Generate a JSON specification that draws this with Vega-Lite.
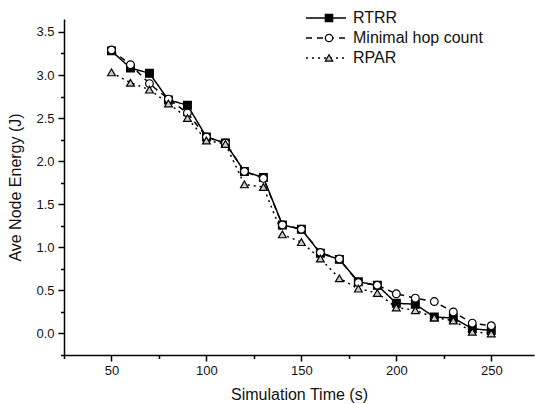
{
  "$schema": "https://vega.github.io/schema/vega-lite/v6.json",
  "width": 470,
  "height": 336,
  "autosize": {"type": "none"},
  "padding": {"left": 64, "top": 19, "right": 1, "bottom": 49},
  "background": "white",
  "config": {
    "view": {"stroke": null},
    "font": "Liberation Sans",
    "axis": {
      "domainColor": "black",
      "domainWidth": 1.5,
      "tickColor": "black",
      "tickWidth": 1.5,
      "labelFont": "Liberation Sans",
      "labelFontSize": 13,
      "labelColor": "#111",
      "titleFont": "Liberation Sans",
      "titleFontSize": 16,
      "titleFontWeight": "normal",
      "titleColor": "#111",
      "grid": false
    },
    "legend": {
      "labelFont": "Liberation Sans",
      "labelFontSize": 16,
      "labelColor": "#111",
      "padding": 0,
      "rowPadding": 0,
      "clipHeight": 20
    }
  },
  "data": {
    "values": [
      {"t": 50, "series": "RTRR", "e": 3.28},
      {"t": 60, "series": "RTRR", "e": 3.08},
      {"t": 70, "series": "RTRR", "e": 3.02},
      {"t": 80, "series": "RTRR", "e": 2.71},
      {"t": 90, "series": "RTRR", "e": 2.65},
      {"t": 100, "series": "RTRR", "e": 2.28},
      {"t": 110, "series": "RTRR", "e": 2.21},
      {"t": 120, "series": "RTRR", "e": 1.88},
      {"t": 130, "series": "RTRR", "e": 1.81},
      {"t": 140, "series": "RTRR", "e": 1.26},
      {"t": 150, "series": "RTRR", "e": 1.21},
      {"t": 160, "series": "RTRR", "e": 0.93},
      {"t": 170, "series": "RTRR", "e": 0.86},
      {"t": 180, "series": "RTRR", "e": 0.6},
      {"t": 190, "series": "RTRR", "e": 0.56},
      {"t": 200, "series": "RTRR", "e": 0.35},
      {"t": 210, "series": "RTRR", "e": 0.34},
      {"t": 220, "series": "RTRR", "e": 0.19},
      {"t": 230, "series": "RTRR", "e": 0.18},
      {"t": 240, "series": "RTRR", "e": 0.055},
      {"t": 250, "series": "RTRR", "e": 0.035},
      {"t": 50, "series": "Minimal hop count", "e": 3.29},
      {"t": 60, "series": "Minimal hop count", "e": 3.12},
      {"t": 70, "series": "Minimal hop count", "e": 2.9},
      {"t": 80, "series": "Minimal hop count", "e": 2.72},
      {"t": 90, "series": "Minimal hop count", "e": 2.56},
      {"t": 100, "series": "Minimal hop count", "e": 2.28},
      {"t": 110, "series": "Minimal hop count", "e": 2.21},
      {"t": 120, "series": "Minimal hop count", "e": 1.88},
      {"t": 130, "series": "Minimal hop count", "e": 1.8},
      {"t": 140, "series": "Minimal hop count", "e": 1.26},
      {"t": 150, "series": "Minimal hop count", "e": 1.21},
      {"t": 160, "series": "Minimal hop count", "e": 0.94},
      {"t": 170, "series": "Minimal hop count", "e": 0.865},
      {"t": 180, "series": "Minimal hop count", "e": 0.59},
      {"t": 190, "series": "Minimal hop count", "e": 0.56},
      {"t": 200, "series": "Minimal hop count", "e": 0.46},
      {"t": 210, "series": "Minimal hop count", "e": 0.41},
      {"t": 220, "series": "Minimal hop count", "e": 0.37},
      {"t": 230, "series": "Minimal hop count", "e": 0.25},
      {"t": 240, "series": "Minimal hop count", "e": 0.12},
      {"t": 250, "series": "Minimal hop count", "e": 0.09},
      {"t": 50, "series": "RPAR", "e": 3.03},
      {"t": 60, "series": "RPAR", "e": 2.91},
      {"t": 70, "series": "RPAR", "e": 2.83},
      {"t": 80, "series": "RPAR", "e": 2.67},
      {"t": 90, "series": "RPAR", "e": 2.5},
      {"t": 100, "series": "RPAR", "e": 2.24},
      {"t": 110, "series": "RPAR", "e": 2.2},
      {"t": 120, "series": "RPAR", "e": 1.73},
      {"t": 130, "series": "RPAR", "e": 1.7},
      {"t": 140, "series": "RPAR", "e": 1.15},
      {"t": 150, "series": "RPAR", "e": 1.06},
      {"t": 160, "series": "RPAR", "e": 0.87},
      {"t": 170, "series": "RPAR", "e": 0.64},
      {"t": 180, "series": "RPAR", "e": 0.52},
      {"t": 190, "series": "RPAR", "e": 0.47},
      {"t": 200, "series": "RPAR", "e": 0.3},
      {"t": 210, "series": "RPAR", "e": 0.27},
      {"t": 220, "series": "RPAR", "e": 0.185},
      {"t": 230, "series": "RPAR", "e": 0.15},
      {"t": 240, "series": "RPAR", "e": 0.02},
      {"t": 250, "series": "RPAR", "e": 0.0}
    ]
  },
  "encoding": {
    "x": {
      "field": "t",
      "type": "quantitative",
      "scale": {"domain": [25, 272.5], "nice": false, "zero": false},
      "axis": {
        "title": "Simulation Time (s)",
        "values": [25, 50, 75, 100, 125, 150, 175, 200, 225, 250],
        "labelExpr": "datum.value % 50 === 0 ? datum.label : ''",
        "tickSize": {"condition": {"test": "datum.value % 50 === 0", "value": 6}, "value": 3.5},
        "labelPadding": 3,
        "titlePadding": 9
      }
    },
    "y": {
      "field": "e",
      "type": "quantitative",
      "scale": {"domain": [-0.25, 3.65], "nice": false, "zero": false},
      "axis": {
        "title": "Ave Node Energy (J)",
        "format": ".1f",
        "values": [-0.25, 0, 0.25, 0.5, 0.75, 1, 1.25, 1.5, 1.75, 2, 2.25, 2.5, 2.75, 3, 3.25, 3.5],
        "labelExpr": "abs(round(datum.value * 100)) % 50 === 0 ? datum.label : ''",
        "tickSize": {"condition": {"test": "abs(round(datum.value * 100)) % 50 === 0", "value": 6}, "value": 3.5},
        "labelPadding": 4,
        "titlePadding": 12
      }
    }
  },
  "layer": [
    {
      "mark": {"type": "line", "color": "black", "strokeWidth": 1.5},
      "encoding": {
        "strokeDash": {
          "field": "series",
          "type": "nominal",
          "sort": ["RTRR", "Minimal hop count", "RPAR"],
          "scale": {"range": [[1, 0], [6, 5], [2, 4]]},
          "legend": {
            "title": null,
            "orient": "none",
            "legendX": 241,
            "legendY": -11,
            "symbolType": "stroke",
            "symbolSize": 1600,
            "symbolStrokeColor": "black",
            "symbolStrokeWidth": 1.5,
            "labelOffset": 6
          }
        }
      }
    },
    {
      "mark": {"type": "point", "filled": true, "stroke": "black", "strokeWidth": 1.2, "opacity": 1},
      "encoding": {
        "shape": {
          "field": "series",
          "type": "nominal",
          "scale": {"domain": ["RTRR", "Minimal hop count", "RPAR"], "range": ["square", "circle", "triangle-up"]},
          "legend": {
            "title": null,
            "orient": "none",
            "legendX": 257,
            "legendY": -11,
            "symbolSize": 55,
            "symbolStrokeColor": "black",
            "symbolStrokeWidth": 1.2,
            "symbolOpacity": 1,
            "labelExpr": "''",
            "encode": {"symbols": {"update": {"stroke": {"value": "black"}, "strokeWidth": {"value": 1.2}, "opacity": {"value": 1}}}}
          }
        },
        "fill": {
          "field": "series",
          "type": "nominal",
          "scale": {"domain": ["RTRR", "Minimal hop count", "RPAR"], "range": ["black", "white", "#cccccc"]},
          "legend": {
            "title": null,
            "orient": "none",
            "legendX": 257,
            "legendY": -11,
            "symbolSize": 55,
            "symbolStrokeColor": "black",
            "symbolStrokeWidth": 1.2,
            "symbolOpacity": 1,
            "labelExpr": "''",
            "encode": {"symbols": {"update": {"stroke": {"value": "black"}, "strokeWidth": {"value": 1.2}, "opacity": {"value": 1}}}}
          }
        },
        "size": {"value": 60}
      }
    }
  ]
}
